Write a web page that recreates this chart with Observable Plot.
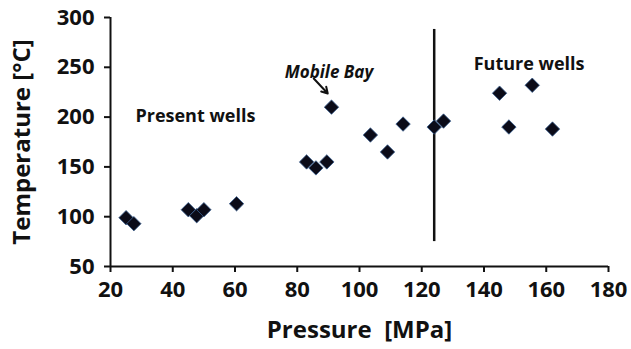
<!DOCTYPE html>
<html>
<head>
<meta charset="utf-8">
<script src="https://cdn.jsdelivr.net/npm/d3@7"></script>
<script src="https://cdn.jsdelivr.net/npm/@observablehq/plot@0.6"></script>
<style>
  body { margin: 0; background: #fff; }
  #chart svg { display: block; }
</style>
</head>
<body>
<div id="chart"></div>
<script>
const pressure = [25, 27.5, 45, 47.7, 50, 60.5, 83, 86, 89.5, 91, 103.5, 109, 114, 124, 127, 145, 148, 155.5, 162];
const temperature = [99, 93, 107, 101, 107, 113, 155, 149, 155, 210, 182, 165, 193, 190, 196, 224, 190, 232, 188];
const xTicks = [20, 40, 60, 80, 100, 120, 140, 160, 180];
const yTicks = [50, 100, 150, 200, 250, 300];
const divider = [124];
const dividerRange = [75, 288];
const labels = ["Present wells", "Future wells"];
const labelX = [28, 136.7];
const labelY = [200.5, 253];
const annotation = ["Mobile Bay"];
const annotationX = [90.2];
const annotationY = [245];
const arrowFrom = [85.3, 238.8];
const arrowTo = [89.8, 223.7];

const points = pressure.map((p, i) => ({p, t: temperature[i]}));
const textRows = labels.map((l, i) => ({l, x: labelX[i], y: labelY[i]}));

const font = "'Open Sans', sans-serif";

const chart = Plot.plot({
  width: 631,
  height: 349,
  marginLeft: 110,
  marginRight: 23,
  marginTop: 17,
  marginBottom: 83,
  style: {fontFamily: font, background: "#fff", color: "#111", overflow: "visible"},
  x: {domain: [20, 180]},
  y: {domain: [50, 300]},
  marks: [
    Plot.axisX({ticks: xTicks, tickSize: 6, tickPadding: 9, fontSize: 22, fontWeight: "bold", strokeWidth: 2, label: null}),
    Plot.axisY({ticks: yTicks, tickSize: 6, tickPadding: 10, fontSize: 22, fontWeight: "bold", strokeWidth: 2, label: null}),
    Plot.ruleY([50], {stroke: "#111", strokeWidth: 2}),
    Plot.ruleX([20], {stroke: "#111", strokeWidth: 2}),
    Plot.ruleX(divider, {y1: dividerRange[0], y2: dividerRange[1], stroke: "#111", strokeWidth: 2.5}),
    Plot.dot(points, {x: "p", y: "t", symbol: "diamond2", r: 6.5, fill: "#0b0b18", stroke: "#3a5f90", strokeWidth: 0.8}),
    Plot.text(textRows, {x: "x", y: "y", text: "l", textAnchor: "start", fontSize: 18, fontWeight: "bold", fill: "#111"}),
    Plot.text(annotation, {x: annotationX, y: annotationY, text: d => d, fontSize: 17, fontWeight: "bold", fontStyle: "italic", fill: "#111"}),
    Plot.arrow(annotation, {x1: () => arrowFrom[0], y1: () => arrowFrom[1], x2: () => arrowTo[0], y2: () => arrowTo[1], stroke: "#111", strokeWidth: 2, headLength: 10, bend: 0}),
    Plot.text(["Pressure  [MPa]"], {frameAnchor: "bottom", dy: 64, text: d => d, fontSize: 24, fontWeight: "bold", fill: "#111", lineAnchor: "middle", textAnchor: "middle"}),
    Plot.text(["Temperature [°C]"], {frameAnchor: "left", dx: -88, text: d => d, rotate: -90, fontSize: 24, fontWeight: "bold", fill: "#111", lineAnchor: "middle", textAnchor: "middle"})
  ]
});
document.getElementById("chart").append(chart);
</script>
</body>
</html>
